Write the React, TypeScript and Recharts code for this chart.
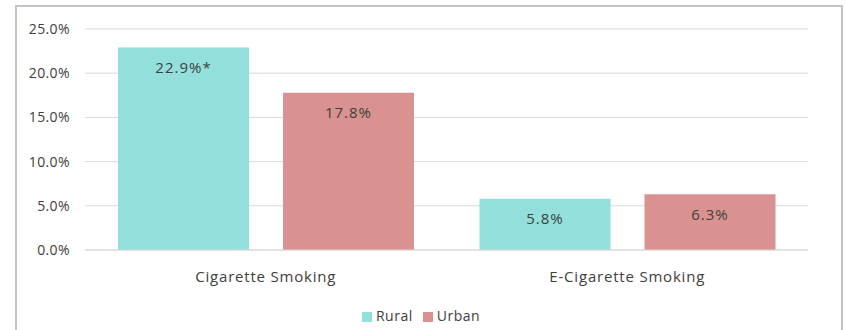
import { BarChart, Bar, XAxis, YAxis, CartesianGrid, Legend, LabelList } from "recharts";

// categories and series values (percent)
const categories = ["Cigarette Smoking", "E-Cigarette Smoking"];
const rural = [22.9, 5.8];
const urban = [17.8, 6.3];
// significance markers shown after the rural labels
const ruralMarks = ["*", ""];
const yTicks = [0, 5, 10, 15, 20, 25];

const RURAL_COLOR = "#93DFDC";
const URBAN_COLOR = "#D9928F";
const TEXT = "#404040";
const FONT = "'Open Sans', sans-serif";

const data = categories.map((name, i) => ({
  name,
  rural: rural[i],
  urban: urban[i],
  ruralLabel: `${rural[i].toFixed(1)}%${ruralMarks[i]}`,
  urbanLabel: `${urban[i].toFixed(1)}%`,
}));

export default function App() {
  return (
    <div style={{ position: "absolute", left: 0, top: 0, width: 846, height: 330, overflow: "hidden", background: "#fff", fontFamily: FONT }}>
      {/* outer chart frame */}
      <div
        style={{
          position: "absolute",
          left: 15,
          top: 5,
          width: 828,
          height: 340,
          border: "2px solid #c4c4c4",
          boxSizing: "border-box",
        }}
      />
      <div style={{ position: "absolute", left: 0, top: 0 }}>
        <BarChart
          width={846}
          height={330}
          data={data}
          margin={{ top: 29, right: 38, bottom: 16, left: 0 }}
          barGap={34}
          barCategoryGap={33}
        >
          <CartesianGrid vertical={false} stroke="#d9d9d9" />
          <XAxis
            dataKey="name"
            axisLine={{ stroke: "#d9d9d9" }}
            tickLine={false}
            tick={{ fill: TEXT, fontSize: 15, fontFamily: FONT, letterSpacing: 0.8 }}
            tickMargin={15}
            height={45}
          />
          <YAxis
            domain={[0, 25]}
            ticks={yTicks}
            axisLine={false}
            tickLine={false}
            tickMargin={9}
            width={85}
            tickFormatter={(v: number) => `${v.toFixed(1)}%`}
            tick={{ fill: TEXT, fontSize: 14, fontFamily: FONT, letterSpacing: 0.4 }}
          />
          <Legend
            iconType="square"
            iconSize={10}
            wrapperStyle={{ left: 0, width: 852, bottom: 5, fontSize: 14, fontFamily: FONT, letterSpacing: 0.5 }}
            formatter={(value: string) => <span style={{ color: TEXT }}>{value}</span>}
          />
          <Bar dataKey="rural" name="Rural" fill={RURAL_COLOR} isAnimationActive={false}>
            <LabelList dataKey="ruralLabel" position="insideTop" offset={15} fill={TEXT} fontSize={15} fontFamily={FONT} letterSpacing={1} />
          </Bar>
          <Bar dataKey="urban" name="Urban" fill={URBAN_COLOR} isAnimationActive={false}>
            <LabelList dataKey="urbanLabel" position="insideTop" offset={15} fill={TEXT} fontSize={15} fontFamily={FONT} letterSpacing={1} />
          </Bar>
        </BarChart>
      </div>
    </div>
  );
}
